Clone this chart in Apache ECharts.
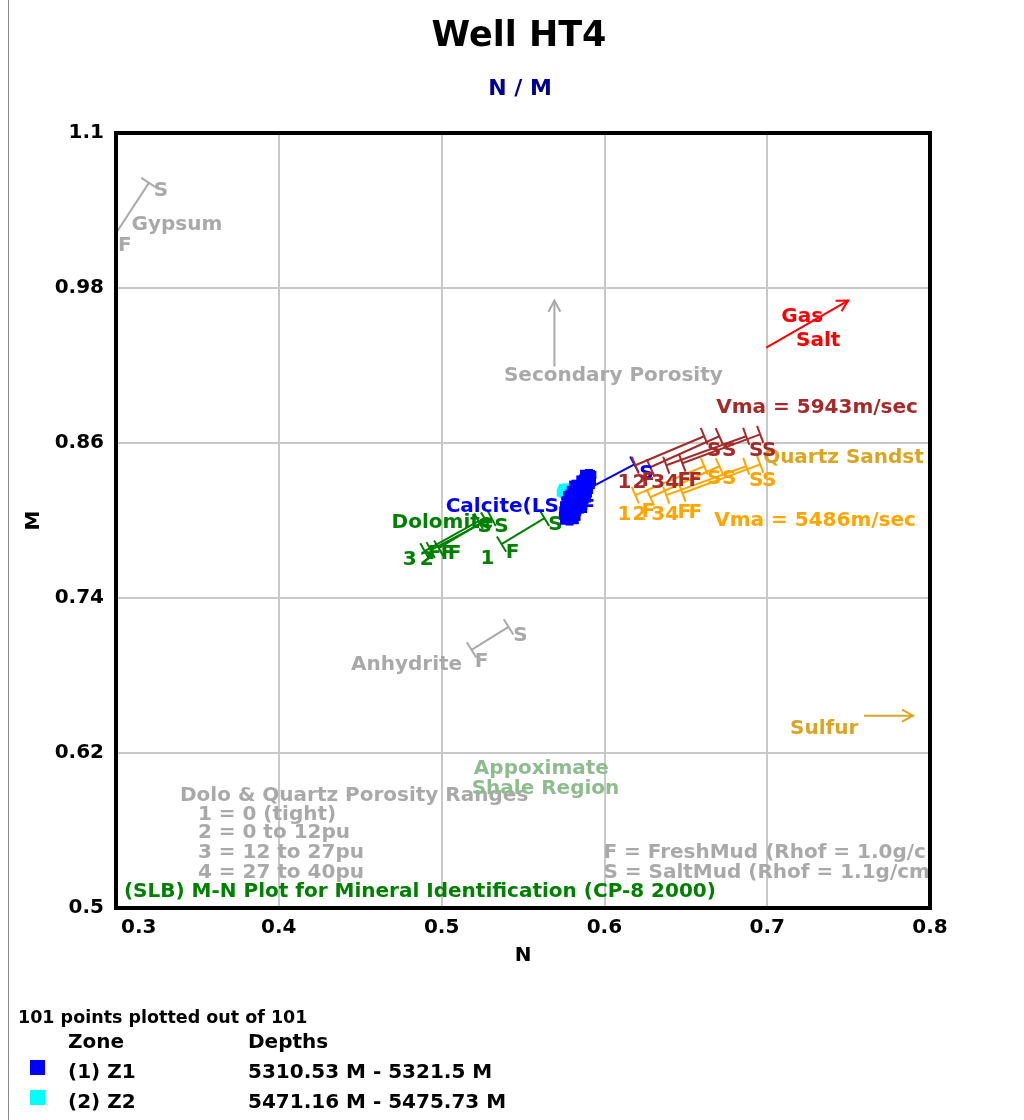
<!DOCTYPE html>
<html><head><meta charset="utf-8">
<script src="https://cdn.jsdelivr.net/npm/echarts@6/dist/echarts.min.js"></script>
<style>html,body{margin:0;padding:0;background:#fff}#c{width:1024px;height:1120px}</style>
</head><body><div id="c"></div>
<script>
const FONT = "'DejaVu Sans', Verdana, sans-serif";
const chartTitle = 'Well HT4';
const chartSubtitle = 'N / M';
const xAxisName = 'N';
const yAxisName = 'M';
const xRange = [0.3, 0.8, 0.1];
const yRange = [0.5, 1.1, 0.12];
const zoneNames = ['(1) Z1', '(2) Z2'];
const zoneDepths = ['5310.53 M - 5321.5 M', '5471.16 M - 5475.73 M'];
const zoneColors = ['#0000FF', '#00FFFF'];
const pointsNote = '101 points plotted out of 101';

// Zone 1 points [N, M]
const zone1 = [
 [0.5875,0.8362],[0.5890,0.8355],[0.5905,0.8368],[0.5918,0.8360],[0.5926,0.8352],
 [0.5852,0.8318],[0.5868,0.8325],[0.5884,0.8312],[0.5899,0.8330],[0.5913,0.8321],[0.5924,0.8310],
 [0.5808,0.8278],[0.5823,0.8285],[0.5840,0.8272],[0.5856,0.8290],[0.5871,0.8281],[0.5888,0.8268],[0.5903,0.8287],[0.5917,0.8274],
 [0.5793,0.8238],[0.5810,0.8246],[0.5826,0.8232],[0.5843,0.8250],[0.5859,0.8241],[0.5874,0.8228],[0.5890,0.8245],[0.5906,0.8236],
 [0.5770,0.8198],[0.5786,0.8207],[0.5803,0.8192],[0.5819,0.8210],[0.5836,0.8201],[0.5852,0.8188],[0.5868,0.8205],[0.5884,0.8196],[0.5899,0.8209],
 [0.5761,0.8158],[0.5777,0.8166],[0.5794,0.8151],[0.5811,0.8170],[0.5828,0.8160],[0.5845,0.8148],[0.5862,0.8165],[0.5878,0.8156],[0.5893,0.8170],
 [0.5752,0.8118],[0.5768,0.8127],[0.5786,0.8112],[0.5803,0.8130],[0.5820,0.8121],[0.5838,0.8108],[0.5855,0.8125],[0.5871,0.8116],
 [0.5747,0.8078],[0.5764,0.8087],[0.5781,0.8072],[0.5799,0.8090],[0.5816,0.8081],[0.5833,0.8068],[0.5849,0.8084],
 [0.5745,0.8038],[0.5761,0.8047],[0.5779,0.8032],[0.5796,0.8050],[0.5812,0.8041],[0.5829,0.8028],
 [0.5752,0.7998],[0.5769,0.8006],[0.5786,0.7992],[0.5803,0.8010],[0.5818,0.8002],
 [0.5898,0.8342],[0.5862,0.8302],[0.5835,0.8262],[0.5818,0.8223],[0.5795,0.8180],[0.5828,0.8139],[0.5790,0.8100],[0.5772,0.8060],[0.5800,0.8020]
];
// Zone 2 points [N, M]
const zone2 = [
 [0.5732,0.8215],[0.5738,0.8238],[0.5745,0.8252],[0.5752,0.8222],[0.5758,0.8245],[0.5765,0.8256],[0.5772,0.8232],
 [0.5780,0.8252],[0.5788,0.8242],[0.5795,0.8255],[0.5745,0.8208],[0.5760,0.8212],[0.5775,0.8215],[0.5802,0.8232],
 [0.5810,0.8248],[0.5818,0.8225],[0.5828,0.8240],[0.5792,0.8218],[0.5835,0.8252],[0.5842,0.8232],[0.5850,0.8245]
];

// Mineral reference lines [N1, M1, N2, M2, tickAtStart, tickAtEnd]
const graySegs = [
 [0.3006,1.0235,0.3202,1.0614,0,1],
 [0.5184,0.6998,0.5411,0.7176,1,1]
];
const calciteSegs = [[0.5847,0.8210,0.6184,0.8434,1,1]];
const dolomiteSegs = [
 [0.5368,0.7817,0.5632,0.8018,1,1],
 [0.4982,0.7786,0.5270,0.8003,1,1],
 [0.4933,0.7771,0.5307,0.8018,1,1],
 [0.4896,0.7763,0.5227,0.7995,1,1]
];
const sand5943Segs = [
 [0.6190,0.8428,0.6613,0.8652,1,1],
 [0.6282,0.8412,0.6706,0.8652,1,1],
 [0.6380,0.8428,0.6871,0.8652,1,1],
 [0.6479,0.8443,0.6957,0.8667,1,1]
];
const sand5486Segs = [
 [0.6190,0.8196,0.6613,0.8420,1,1],
 [0.6282,0.8180,0.6706,0.8420,1,1],
 [0.6380,0.8196,0.6871,0.8420,1,1],
 [0.6479,0.8211,0.6957,0.8435,1,1]
];
// Arrows [N1, M1, N2, M2]
const grayArrows = [[0.5693,0.9192,0.5693,0.9702]];
const redArrows = [[0.6994,0.9339,0.7497,0.9703]];
const goldArrows = [[0.7595,0.6489,0.7896,0.6489]];

// Labels [text, N, M]  (centered)
const grayLabels = [['S',0.3276,1.0552],['F',0.3055,1.0127],['Gypsum',0.3374,1.0289],['Secondary Porosity',0.6055,0.9123],
 ['S',0.5485,0.7107],['F',0.5245,0.6906],['Anhydrite',0.4785,0.6883]];
const grayLeftLabels = [['Dolo & Quartz Porosity Ranges',0.3393,0.5871],['1 = 0 (tight)',0.3503,0.5724],['2 = 0 to 12pu',0.3503,0.5585],
 ['3 = 12 to 27pu',0.3503,0.5430],['4 = 27 to 40pu',0.3503,0.5276],['F = FreshMud (Rhof = 1.0g/c',0.5994,0.5430],['S = SaltMud (Rhof = 1.1g/cm',0.5994,0.5276]];
const shaleLabels = [['Appoximate',0.5613,0.6079],['Shale Region',0.5638,0.5925]];
const greenLeftLabels = [['(SLB) M-N Plot for Mineral Identification (CP-8 2000)',0.3049,0.5129],['Dolomite',0.4693,0.7986]];
const greenLabels = [['S',0.5699,0.7964],['1',0.5282,0.7701],['F',0.5436,0.7748],['S',0.5264,0.7949],['S',0.5368,0.7949],
 ['3',0.4804,0.7694],['2',0.4908,0.7694],['F',0.4957,0.7740],['F',0.5037,0.7740],['F',0.5080,0.7740]];
const redLabels = [['Gas',0.7215,0.9579],['Salt',0.7313,0.9393]];
const goldLabels = [['Sulfur',0.7350,0.6388]];
const goldLeftLabels = [['Quartz Sandst',0.6975,0.8482]];
const brownLeftLabels = [['Vma = 5943m/sec',0.6687,0.8876]];
const orangeLeftLabels = [['Vma = 5486m/sec',0.6675,0.7995]];
const blueLeftLabels = [['Calcite(LS)',0.5025,0.8103]];
const blueLabels = [['F',0.5902,0.8096],['S',0.6258,0.8358]];
const brownLabels = [['1',0.6123,0.8289],['2',0.6215,0.8289],['F',0.6270,0.8304],['3',0.6331,0.8289],['4',0.6417,0.8289],['F',0.6491,0.8304],['F',0.6558,0.8304],
 ['S',0.6675,0.8543],['S',0.6767,0.8543],['S',0.6933,0.8543],['S',0.7012,0.8543]];
const orangeLabels = [['1',0.6123,0.8041],['2',0.6215,0.8041],['F',0.6270,0.8064],['3',0.6331,0.8041],['4',0.6417,0.8041],['F',0.6491,0.8057],['F',0.6558,0.8057],
 ['S',0.6675,0.8319],['S',0.6767,0.8319],['S',0.6933,0.8304],['S',0.7012,0.8304]];

const C = {gray:'#A9A9A9', blue:'#0000FF', green:'#008000', brown:'#A52A2A', orange:'#FFA500', gold:'#DAA520', red:'#FF0000', shale:'#8FBC8F'};

function segSeries(segs, color) {
  return {
    type: 'custom', coordinateSystem: 'cartesian2d', silent: true, z: 2,
    data: segs,
    renderItem: function (params, api) {
      const p1 = api.coord([api.value(0), api.value(1)]);
      const p2 = api.coord([api.value(2), api.value(3)]);
      const dx = p2[0]-p1[0], dy = p2[1]-p1[1], L = Math.hypot(dx, dy);
      const nx = -dy/L*9, ny = dx/L*9;
      const st = {stroke: color, lineWidth: 2};
      const ch = [{type:'line', shape:{x1:p1[0],y1:p1[1],x2:p2[0],y2:p2[1]}, style:st}];
      if (api.value(4)) ch.push({type:'line', shape:{x1:p1[0]-nx,y1:p1[1]-ny,x2:p1[0]+nx,y2:p1[1]+ny}, style:st});
      if (api.value(5)) ch.push({type:'line', shape:{x1:p2[0]-nx,y1:p2[1]-ny,x2:p2[0]+nx,y2:p2[1]+ny}, style:st});
      return {type:'group', children: ch};
    }
  };
}
function arrowSeries(arrows, color) {
  return {
    type: 'custom', coordinateSystem: 'cartesian2d', silent: true, z: 2,
    data: arrows,
    renderItem: function (params, api) {
      const p1 = api.coord([api.value(0), api.value(1)]);
      const p2 = api.coord([api.value(2), api.value(3)]);
      const dx = p2[0]-p1[0], dy = p2[1]-p1[1], L = Math.hypot(dx, dy);
      const ux = dx/L, uy = dy/L, h = 11, w = 6;
      const a1 = [p2[0]-ux*h - uy*w, p2[1]-uy*h + ux*w];
      const a2 = [p2[0]-ux*h + uy*w, p2[1]-uy*h - ux*w];
      const st = {stroke: color, lineWidth: 2, fill: null};
      return {type:'group', children: [
        {type:'line', shape:{x1:p1[0],y1:p1[1],x2:p2[0],y2:p2[1]}, style:st},
        {type:'polyline', shape:{points:[a1, p2, a2]}, style:st}
      ]};
    }
  };
}
function labelItems(list, color, left) {
  return list.map(function (l) {
    return {
      name: l[0], value: [l[1], l[2]],
      label: {show: true, formatter: l[0], color: color, position: left ? 'right' : 'inside', distance: 0,
              fontFamily: FONT, fontWeight: 'bold', fontSize: 20, opacity: 1}
    };
  });
}
const allLabels = [].concat(
  labelItems(grayLabels, C.gray), labelItems(grayLeftLabels, C.gray, true),
  labelItems(shaleLabels, C.shale), labelItems(greenLeftLabels, C.green, true), labelItems(greenLabels, C.green),
  labelItems(redLabels, C.red), labelItems(goldLabels, C.gold), labelItems(goldLeftLabels, C.gold, true),
  labelItems(brownLeftLabels, C.brown, true), labelItems(orangeLeftLabels, C.orange, true),
  labelItems(blueLeftLabels, C.blue, true), labelItems(blueLabels, C.blue),
  labelItems(brownLabels, C.brown), labelItems(orangeLabels, C.orange)
);

const chart = echarts.init(document.getElementById('c'), null, {renderer: 'canvas'});
const legendGraphics = [
  {type:'text', x: 18, y: 1018, style:{text: pointsNote, fill:'#000', font:'bold 17.5px ' + FONT, verticalAlign:'middle'}},
  {type:'text', x: 68, y: 1043, style:{text: 'Zone', fill:'#000', font:'bold 20px ' + FONT, verticalAlign:'middle'}},
  {type:'text', x: 248, y: 1043, style:{text: 'Depths', fill:'#000', font:'bold 20px ' + FONT, verticalAlign:'middle'}}
];
zoneNames.forEach(function (zn, i) {
  const y = 1073 + i * 30;
  legendGraphics.push({type:'rect', shape:{x:30, y:y-13, width:15, height:15}, style:{fill: zoneColors[i]}});
  legendGraphics.push({type:'text', x: 68, y: y, style:{text: zn, fill:'#000', font:'bold 20px ' + FONT, verticalAlign:'middle'}});
  legendGraphics.push({type:'text', x: 248, y: y, style:{text: zoneDepths[i], fill:'#000', font:'bold 20px ' + FONT, verticalAlign:'middle'}});
});

chart.setOption({
  animation: false,
  backgroundColor: '#fff',
  graphic: [
    {type:'line', shape:{x1:8.5, y1:0, x2:8.5, y2:1120}, style:{stroke:'#888', lineWidth:1}},
    {type:'text', x: 519, y: 37, style:{text: chartTitle, fill:'#000', font:'bold 35px ' + FONT, align:'center', verticalAlign:'middle'}},
    {type:'text', x: 520, y: 89, style:{text: chartSubtitle, fill:'#00008B', font:'bold 22px ' + FONT, align:'center', verticalAlign:'middle'}}
  ].concat(legendGraphics),
  grid: {left: 116, right: 94, top: 133, bottom: 212, show: true, borderColor: '#000', borderWidth: 4, backgroundColor: 'transparent', containLabel: false, z: 10},
  xAxis: {
    type: 'value', min: xRange[0], max: xRange[1], interval: xRange[2],
    name: xAxisName, nameLocation: 'middle', nameGap: 38,
    nameTextStyle: {fontFamily: FONT, fontWeight: 'bold', fontSize: 20, color: '#000'},
    axisLine: {show: false}, axisTick: {show: false},
    axisLabel: {fontFamily: FONT, fontWeight: 'bold', fontSize: 20, color: '#000', margin: 10, alignMinLabel: 'left',
      formatter: function (v, i) { return i === 0 ? '{p|' + v + '}' : String(v); },
      rich: {p: {fontFamily: FONT, fontWeight: 'bold', fontSize: 20, color: '#000', padding: [0, 0, 0, 5]}}},
    splitLine: {show: true, showMinLine: false, showMaxLine: false, lineStyle: {color: '#c8c8c8', width: 2}}
  },
  yAxis: {
    type: 'value', min: yRange[0], max: yRange[1], interval: yRange[2],
    name: yAxisName, nameLocation: 'middle', nameGap: 70, nameRotate: 90,
    nameTextStyle: {fontFamily: FONT, fontWeight: 'bold', fontSize: 20, color: '#000'},
    axisLine: {show: false}, axisTick: {show: false},
    axisLabel: {fontFamily: FONT, fontWeight: 'bold', fontSize: 20, color: '#000', margin: 12},
    splitLine: {show: true, showMinLine: false, showMaxLine: false, lineStyle: {color: '#c8c8c8', width: 2}}
  },
  series: [
    segSeries(graySegs, C.gray), segSeries(calciteSegs, C.blue), segSeries(dolomiteSegs, C.green),
    segSeries(sand5943Segs, C.brown), segSeries(sand5486Segs, C.orange),
    arrowSeries(grayArrows, C.gray), arrowSeries(redArrows, C.red), arrowSeries(goldArrows, C.gold),
    {type: 'scatter', silent: true, z: 3, symbolSize: 0, itemStyle: {opacity: 1}, data: allLabels},
    {type: 'scatter', name: zoneNames[1], silent: true, z: 5, symbol: 'rect', symbolSize: 8, itemStyle: {color: zoneColors[1], opacity: 1}, data: zone2},
    {type: 'scatter', name: zoneNames[0], silent: true, z: 6, symbol: 'rect', symbolSize: 8, itemStyle: {color: zoneColors[0], opacity: 1}, data: zone1}
  ]
});
</script></body></html>
